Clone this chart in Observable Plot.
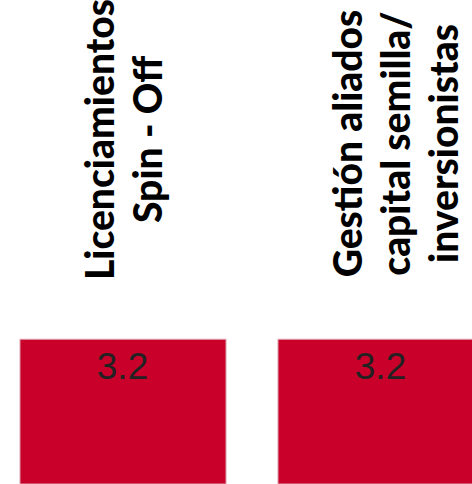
<!DOCTYPE html>
<html>
<head>
<meta charset="utf-8">
<script src="https://cdn.jsdelivr.net/npm/d3@7"></script>
<script src="https://cdn.jsdelivr.net/npm/@observablehq/plot@0.6"></script>
<style>
  html, body { margin: 0; padding: 0; background: #fff; overflow: hidden; }
</style>
</head>
<body>
<div id="chart"></div>
<script>
// Categories (line breaks as in the original labels)
const categories = [
  "Licenciamientos\nSpin - Off",
  "Gestión aliados\ncapital semilla/\ninversionistas"
];
// Series values
const values = [3.2, 3.2];
// Visible part of the value axis
const yDomain = [0, 10.7];

const data = categories.map((c, i) => ({category: c, value: values[i]}));

const barColor = "#C8002A";
const labelFont = "Lato, 'Noto Sans', sans-serif";

const labelStyle = {
  x: "category",
  text: "category",
  frameAnchor: "top",
  dy: 143,
  rotate: -90,
  textAnchor: "middle",
  lineAnchor: "middle",
  lineHeight: 1.24,
  fontSize: 39,
  fontWeight: 900,
  fontFamily: labelFont,
  fill: "#000"
};

const chart = Plot.plot({
  width: 472,
  height: 484,
  marginTop: 0,
  marginBottom: 0,
  marginLeft: 0,
  marginRight: -33,
  x: {domain: categories, paddingInner: 0.2, paddingOuter: 0.075, axis: null},
  y: {domain: yDomain, axis: null},
  marks: [
    Plot.barY(data, {
      x: "category",
      y: "value",
      fill: barColor,
      stroke: "#dca0ae",
      strokeWidth: 1
    }),
    Plot.text(data, {
      x: "category",
      y: "value",
      text: d => d.value.toFixed(1),
      lineAnchor: "top",
      dy: 13,
      dx: -1,
      fontSize: 37,
      fontFamily: "'Liberation Sans', Arial, sans-serif",
      fill: "#222"
    }),
    Plot.text(data.filter((d, i) => i === 0), {...labelStyle, dx: -1, dy: 139}),
    Plot.text(data.filter((d, i) => i === 1), {...labelStyle, dx: 13})
  ]
});

document.getElementById("chart").appendChild(chart);
</script>
</body>
</html>
